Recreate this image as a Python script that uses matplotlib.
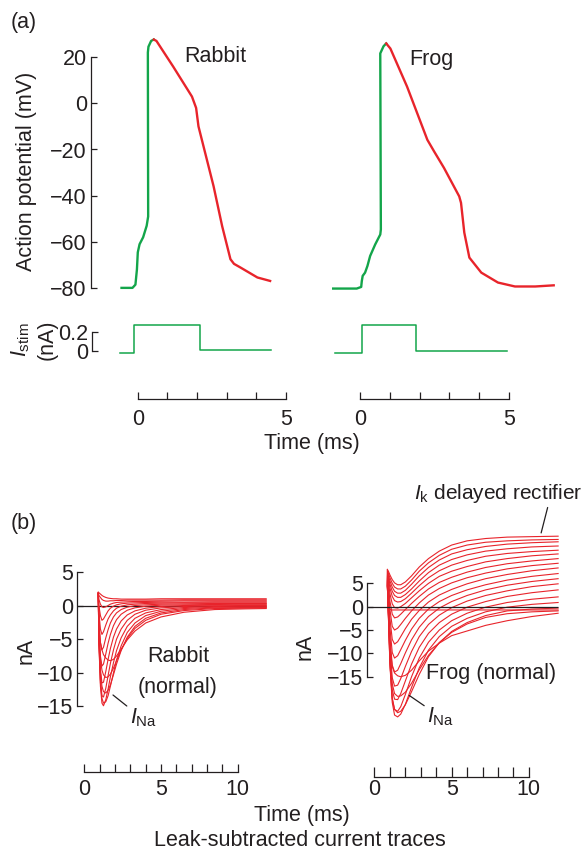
import matplotlib
matplotlib.use('Agg')
import matplotlib.pyplot as plt

plt.rcParams['font.family'] = ['Liberation Sans', 'DejaVu Sans']
plt.rcParams['mathtext.fontset'] = 'custom'
plt.rcParams['mathtext.rm'] = 'Liberation Sans'
plt.rcParams['mathtext.it'] = 'Liberation Sans:italic'
plt.rcParams['axes.unicode_minus'] = True

W, H = 585, 852
RED = '#e8242b'
GREEN = '#13a54a'
INK = '#231f20'
FS = 15.5

# ---------------- (a) action potentials (ms, mV) ----------------
rabbit_up_t = [-0.55, -0.18, -0.08, -0.03, 0.0, 0.06, 0.18, 0.30, 0.35, 0.34, 0.36, 0.45, 0.54]
rabbit_up_v = [-79.9, -79.9, -78.5, -72.0, -64.5, -61.0, -58.0, -53.0, -49.0, 22.0, 24.5, 27.0, 27.6]
rabbit_down_t = [0.54, 0.63, 1.20, 1.83, 1.97, 2.05, 2.56, 2.85, 3.13, 3.25, 3.47, 4.04, 4.47]
rabbit_down_v = [27.6, 27.0, 15.8, 2.9, -2.0, -10.0, -35.9, -53.2, -67.5, -69.5, -71.1, -75.4, -76.9]

frog_up_t = [-0.90, -0.11, 0.04, 0.06, 0.09, 0.17, 0.25, 0.34, 0.51, 0.68, 0.70, 0.68, 0.79, 0.88]
frog_up_v = [-80.2, -80.2, -79.5, -77.0, -74.7, -73.3, -70.4, -66.1, -61.1, -56.8, -54.6, 21.6, 24.7, 25.9]
frog_down_t = [0.88, 1.02, 1.58, 2.26, 2.49, 2.82, 3.33, 3.39, 3.50, 3.67, 4.07, 4.63, 5.20, 5.88, 6.50]
frog_down_v = [25.9, 23.7, 7.2, -15.8, -20.9, -28.0, -40.3, -43.1, -56.0, -66.8, -73.3, -77.6, -79.3, -79.3, -78.8]

# stimulus current (nA), step edges
stim_rabbit_t = [-0.61, -0.14, 2.09, 4.51]
stim_rabbit_i = [-0.02, 0.27, 0.01, 0.01]
stim_frog_t = [-0.84, 0.07, 1.89, 4.94]
stim_frog_i = [-0.02, 0.27, 0.0, 0.0]

# ---------------- (b) leak-subtracted currents (ms, nA) ----------------
rabbit_time = [0.91, 0.95, 1.05, 1.15, 1.25, 1.4, 1.55, 1.7, 1.9, 2.1, 2.4, 2.8, 3.3, 4.0, 5.0, 6.5, 8.5, 10.5, 11.85]
rabbit_traces = [
    [2.0, 1.9, 1.7, 1.5, 1.35, 1.2, 1.1, 1.05, 1.0, 1.0, 0.95, 0.95, 0.95, 0.95, 1.0, 1.0, 1.0, 1.0, 1.0],
    [1.9, 1.5, 1.2, 0.9, 0.75, 0.65, 0.65, 0.7, 0.7, 0.75, 0.75, 0.8, 0.8, 0.8, 0.8, 0.85, 0.85, 0.85, 0.85],
    [1.9, 0.9, 0.2, -0.2, -0.3, -0.2, 0.0, 0.2, 0.35, 0.45, 0.5, 0.55, 0.6, 0.6, 0.65, 0.7, 0.7, 0.7, 0.7],
    [1.9, 0.0, -1.5, -2.2, -2.0, -1.4, -0.8, -0.4, -0.1, 0.1, 0.25, 0.35, 0.4, 0.45, 0.5, 0.5, 0.55, 0.55, 0.55],
    [1.8, -1.0, -3.5, -4.3, -3.9, -2.9, -2.0, -1.4, -0.8, -0.4, -0.1, 0.1, 0.2, 0.3, 0.35, 0.4, 0.4, 0.4, 0.4],
    [1.8, -2.0, -5.5, -6.6, -6.2, -4.8, -3.6, -2.6, -1.7, -1.1, -0.6, -0.25, 0.0, 0.1, 0.2, 0.25, 0.3, 0.3, 0.3],
    [1.8, -3.0, -7.5, -9.0, -8.7, -7.2, -5.6, -4.3, -3.0, -2.1, -1.3, -0.7, -0.35, -0.1, 0.05, 0.1, 0.15, 0.2, 0.2],
    [1.8, -4.0, -9.5, -11.5, -11.4, -9.8, -8.0, -6.4, -4.7, -3.5, -2.3, -1.4, -0.8, -0.4, -0.15, 0.0, 0.05, 0.1, 0.1],
    [1.8, -5.0, -11.0, -13.4, -13.6, -12.3, -10.4, -8.6, -6.6, -5.0, -3.5, -2.2, -1.3, -0.7, -0.35, -0.15, -0.05, 0.0, 0.0],
    [1.8, -5.5, -12.0, -14.5, -14.9, -14.0, -12.4, -10.6, -8.5, -6.7, -4.8, -3.1, -1.9, -1.1, -0.6, -0.3, -0.15, -0.1, -0.1],
    [1.8, -5.5, -11.5, -13.8, -14.5, -14.3, -13.4, -12.0, -10.0, -8.1, -6.0, -4.0, -2.6, -1.5, -0.85, -0.45, -0.25, -0.2, -0.2],
    [1.8, -5.0, -10.0, -12.0, -12.8, -13.0, -12.6, -11.8, -10.3, -8.7, -6.7, -4.7, -3.1, -1.9, -1.1, -0.6, -0.35, -0.3, -0.3],
    [1.8, -4.0, -8.0, -9.6, -10.3, -10.7, -10.6, -10.2, -9.3, -8.2, -6.6, -4.9, -3.4, -2.2, -1.3, -0.75, -0.45, -0.4, -0.35],
    [1.8, -3.0, -5.5, -6.6, -7.3, -7.8, -8.1, -8.2, -8.0, -7.5, -6.5, -5.1, -3.8, -2.6, -1.7, -1.0, -0.6, -0.5, -0.45],
]

frog_time = [0.83, 0.9, 1.0, 1.15, 1.3, 1.5, 1.7, 2.0, 2.4, 2.9, 3.5, 4.2, 5.0, 6.0, 7.2, 8.6, 10.2, 11.9]
frog_traces = [
    [8.0, 7.6, 6.8, 5.8, 5.1, 4.7, 4.7, 5.3, 6.6, 8.5, 10.3, 11.9, 13.2, 14.1, 14.6, 14.9, 15.0, 15.1],
    [7.8, 7.2, 6.2, 5.0, 4.2, 3.8, 3.8, 4.4, 5.7, 7.6, 9.4, 11.0, 12.3, 13.2, 13.8, 14.1, 14.3, 14.4],
    [7.6, 6.8, 5.5, 4.2, 3.3, 2.9, 2.9, 3.5, 4.8, 6.6, 8.4, 10.0, 11.3, 12.2, 12.9, 13.4, 13.7, 13.9],
    [7.4, 6.4, 4.8, 3.3, 2.4, 2.0, 2.0, 2.6, 3.8, 5.5, 7.3, 8.9, 10.1, 11.1, 11.9, 12.4, 12.8, 13.0],
    [7.2, 6.0, 4.0, 2.2, 1.3, 1.0, 1.1, 1.7, 2.9, 4.5, 6.2, 7.7, 8.9, 9.9, 10.8, 11.4, 11.8, 12.1],
    [7.0, 5.4, 2.8, 0.6, -0.2, -0.3, 0.0, 0.7, 1.9, 3.4, 5.0, 6.5, 7.6, 8.6, 9.6, 10.3, 10.9, 11.3],
    [6.8, 4.6, 1.2, -1.6, -2.4, -2.2, -1.6, -0.6, 0.7, 2.2, 3.8, 5.2, 6.3, 7.4, 8.4, 9.2, 9.8, 10.3],
    [6.6, 3.8, -0.6, -4.2, -5.0, -4.6, -3.8, -2.5, -0.9, 0.8, 2.5, 3.9, 5.1, 6.2, 7.2, 8.1, 8.8, 9.3],
    [6.4, 3.0, -2.5, -7.0, -8.0, -7.5, -6.4, -4.7, -2.7, -0.8, 1.0, 2.5, 3.7, 4.9, 6.0, 6.9, 7.7, 8.3],
    [6.2, 2.0, -4.5, -9.8, -11.0, -10.5, -9.2, -7.2, -4.8, -2.5, -0.5, 1.1, 2.4, 3.6, 4.7, 5.7, 6.5, 7.1],
    [6.0, 1.0, -6.5, -12.5, -14.0, -13.6, -12.2, -9.9, -7.1, -4.4, -2.1, -0.3, 1.1, 2.4, 3.6, 4.6, 5.4, 6.0],
    [5.8, 0.0, -8.5, -15.2, -17.0, -16.8, -15.4, -12.8, -9.6, -6.4, -3.8, -1.8, -0.2, 1.2, 2.4, 3.4, 4.3, 4.9],
    [5.6, -1.0, -10.5, -17.8, -19.8, -19.9, -18.6, -15.9, -12.3, -8.7, -5.7, -3.4, -1.6, -0.1, 1.1, 2.2, 3.0, 3.6],
    [5.4, -1.5, -12.0, -19.8, -22.0, -22.4, -21.4, -18.8, -15.0, -11.0, -7.6, -5.0, -3.0, -1.4, -0.1, 0.9, 1.6, 2.1],
    [5.2, -2.0, -12.5, -20.5, -23.2, -23.6, -23.0, -20.9, -17.3, -13.1, -9.3, -6.4, -4.2, -2.5, -1.1, -0.1, 0.5, 0.9],
    [5.0, -2.0, -12.0, -19.5, -22.0, -22.7, -22.4, -21.0, -18.2, -14.5, -10.7, -7.7, -5.3, -3.4, -1.9, -0.9, -0.5, -0.3],
    [4.8, -1.5, -10.5, -16.5, -18.6, -19.2, -19.1, -18.3, -16.4, -13.5, -10.4, -7.7, -5.5, -3.7, -2.3, -1.5, -1.1, -0.9],
    [4.6, -1.0, -8.5, -12.8, -14.2, -14.8, -15.0, -14.7, -13.6, -11.6, -9.5, -7.8, -6.2, -5.2, -4.0, -3.0, -2.1, -1.4],
    [4.4, 0.0, -0.6, -0.7, -0.7, -0.7, -0.7, -0.7, -0.7, -0.7, -0.7, -0.7, -0.7, -0.7, -0.7, -0.7, -0.7, -0.7],
]

ap_ticks = [-80, -60, -40, -20, 0, 20]
stim_ticks = [0, 0.2]
current_ticks = [-15, -10, -5, 0, 5]

fig = plt.figure(figsize=(W / 100, H / 100), dpi=100)


def panel(left, right, top, bottom, x0, xs, y0, ys):
    # pixel box of the axes; x0/y0 = pixel where the data is 0, xs/ys = pixels per unit
    ax = fig.add_axes([left / W, 1 - bottom / H, (right - left) / W, (bottom - top) / H])
    ax.set_xlim((left - x0) / xs, (right - x0) / xs)
    ax.set_ylim((y0 - bottom) / ys, (y0 - top) / ys)
    ax.patch.set_visible(False)
    for s in ax.spines.values():
        s.set_visible(False)
    ax.set_xticks([])
    ax.set_yticks([])
    return ax


def yaxis(ax, ticks, labels=None):
    sp = ax.spines['left']
    sp.set_visible(True)
    sp.set_bounds(ticks[0], ticks[-1])
    sp.set_linewidth(0.9)
    sp.set_color(INK)
    ax.set_yticks(ticks)
    if labels is not None:
        ax.set_yticklabels(labels)
    ax.tick_params(axis='y', direction='in', length=4.5, width=0.9, color=INK,
                   labelsize=FS, labelcolor=INK, pad=3)


def timebar(left, right, y, tmax, shown, ticklen, pad):
    ax = fig.add_axes([left / W, 1 - y / H, (right - left) / W, 30 / H])
    ax.set_xlim(0, tmax)
    ax.patch.set_visible(False)
    for k in ['top', 'left', 'right']:
        ax.spines[k].set_visible(False)
    ax.spines['bottom'].set_linewidth(0.9)
    ax.spines['bottom'].set_color(INK)
    ax.set_yticks([])
    ax.set_xticks(range(tmax + 1))
    ax.set_xticklabels([str(v) if v in shown else '' for v in range(tmax + 1)])
    ax.tick_params(axis='x', direction='in', length=ticklen, width=0.9, color=INK,
                   labelsize=FS, labelcolor=INK, pad=pad)
    return ax


def label(x, y, s, **kw):
    kw.setdefault('ha', 'center')
    kw.setdefault('va', 'center')
    fig.text(x / W, 1 - y / H, s, fontsize=kw.pop('fontsize', FS), color=INK, **kw)


# ---------- (a) ----------
ax_ra = panel(91, 290, 30, 300, 137.8, 29.6, 103.3, 2.31)
yaxis(ax_ra, ap_ticks)
ax_ra.plot(rabbit_up_t, rabbit_up_v, color=GREEN, lw=1.7, solid_joinstyle='round')
ax_ra.plot(rabbit_down_t, rabbit_down_v, color=RED, lw=1.7, solid_joinstyle='round')

ax_fa = panel(320, 570, 30, 300, 360, 29.8, 103.3, 2.31)
ax_fa.plot(frog_up_t, frog_up_v, color=GREEN, lw=1.7, solid_joinstyle='round')
ax_fa.plot(frog_down_t, frog_down_v, color=RED, lw=1.7, solid_joinstyle='round')

ax_rs = panel(92, 290, 315, 365, 137.8, 29.6, 351, 95)
yaxis(ax_rs, stim_ticks, ['0', '0.2'])
ax_rs.plot(stim_rabbit_t, stim_rabbit_i, color=GREEN, lw=1.1, drawstyle='steps-post')

ax_fs = panel(320, 570, 315, 365, 360, 29.8, 351, 95)
ax_fs.plot(stim_frog_t, stim_frog_i, color=GREEN, lw=1.1, drawstyle='steps-post')

timebar(137.8, 285.8, 399.3, 5, [0, 5], 4.8, 7)
timebar(360, 509, 399.3, 5, [0, 5], 4.8, 7)

label(11, 22.5, '(a)', ha='left')
label(184, 56, 'Rabbit', ha='left')
label(409, 60, 'Frog', ha='left')
label(27, 171, 'Action potential (mV)', rotation=90)
label(21, 340, r'$I_{\mathrm{stim}}$', rotation=90)
label(47, 340, '(nA)', rotation=90)
label(312, 443, 'Time (ms)')

# ---------- (b) ----------
ax_rb = panel(77.3, 275, 560, 725, 84.3, 15.35, 605.5, 6.73)
yaxis(ax_rb, current_ticks)
ax_rb.hlines(0, ax_rb.get_xlim()[0], rabbit_time[-1], color=INK, lw=0.9, zorder=1)
for tr in rabbit_traces:
    ax_rb.plot(rabbit_time, tr, color=RED, lw=0.8, zorder=2)
ax_rb.annotate(r'$I_{\mathrm{Na}}$', xy=(1.87, -13.3), xytext=(2.95, -16.6),
               fontsize=FS, color=INK, ha='left', va='center',
               arrowprops=dict(arrowstyle='-', color=INK, lw=0.9, shrinkA=0, shrinkB=0,
                               relpos=(0.05, 0.85)))

ax_fb = panel(367.3, 570, 470, 730, 374.5, 15.43, 606.7, 4.67)
yaxis(ax_fb, current_ticks)
for tr in frog_traces:
    ax_fb.plot(frog_time, tr, color=RED, lw=0.8, zorder=2)
ax_fb.hlines(0, ax_fb.get_xlim()[0], frog_time[-1], color=INK, lw=0.9, zorder=3)
ax_fb.annotate(r'$I_{\mathrm{Na}}$', xy=(2.25, -19.0), xytext=(3.4, -23.5),
               fontsize=FS, color=INK, ha='left', va='center',
               arrowprops=dict(arrowstyle='-', color=INK, lw=0.9, shrinkA=0, shrinkB=0,
                               relpos=(0.05, 0.85)))
ax_fb.annotate(r'$I_{\mathrm{k}}$ delayed rectifier', xy=(10.8, 15.8), xytext=(13.45, 24.3),
               fontsize=15, color=INK, ha='right', va='center',
               arrowprops=dict(arrowstyle='-', color=INK, lw=0.9, shrinkA=0, shrinkB=0,
                               relpos=(0.8, 0.0)))

timebar(84.3, 237.8, 771.7, 10, [0, 5, 10], 6, 5)
timebar(374.5, 528.8, 777.3, 10, [0, 5, 10], 6.9, 1)

label(11, 523, '(b)', ha='left')
label(178, 657, 'Rabbit')
label(178, 687, '(normal)')
label(491, 673, 'Frog (normal)')
label(26, 651, 'nA', rotation=90)
label(305, 647, 'nA', rotation=90)
label(302, 815, 'Time (ms)')
label(300, 840, 'Leak-subtracted current traces')

fig.savefig('out.png', dpi=100)
